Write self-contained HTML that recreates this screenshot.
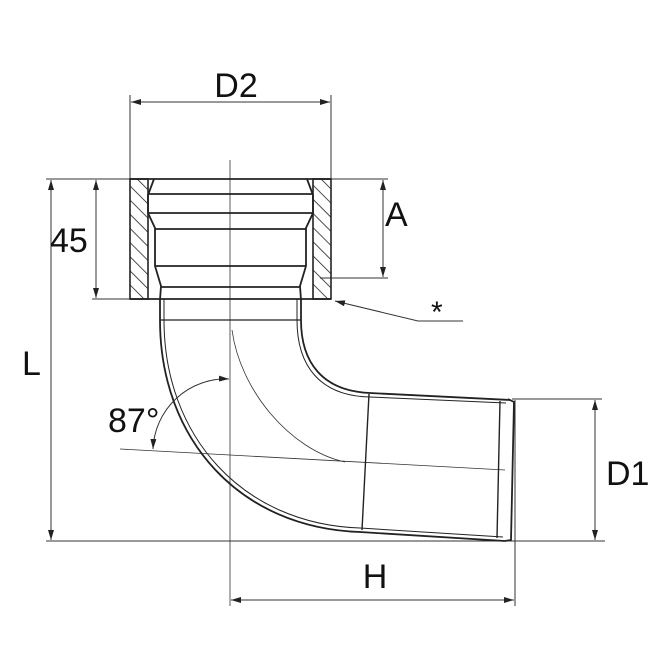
<!DOCTYPE html>
<html><head><meta charset="utf-8"><style>
html,body{margin:0;padding:0;background:#fff}
svg{display:block}
text{font-family:"Liberation Sans",sans-serif;fill:#111}
</style></head><body>
<svg width="670" height="670" viewBox="0 0 670 670" xmlns="http://www.w3.org/2000/svg">
<defs>
<marker id="ar" viewBox="0 0 10 6" refX="10" refY="3" markerWidth="10" markerHeight="6" orient="auto-start-reverse" markerUnits="userSpaceOnUse">
<path d="M0,0 L10,3 L0,6 z" fill="#222"/></marker>
<pattern id="h" patternUnits="userSpaceOnUse" width="10" height="10" patternTransform="rotate(-45)">
<line x1="0" y1="0" x2="0" y2="10" stroke="#222" stroke-width="1.6"/></pattern>
</defs>
<g stroke="#333" stroke-width="1" fill="none">
<line x1="130" y1="95" x2="130" y2="179"/>
<line x1="331" y1="95" x2="331" y2="179"/>
<line x1="46" y1="179" x2="388" y2="179"/>
<line x1="92" y1="299" x2="130" y2="299"/>
<line x1="320" y1="278" x2="388" y2="278"/>
<line x1="46" y1="541" x2="605" y2="541"/>
<line x1="512" y1="399" x2="602" y2="399"/>
<line x1="515" y1="400" x2="515" y2="606"/>
<line x1="230" y1="160" x2="230" y2="606" stroke-width="0.8"/>
<line x1="131" y1="102" x2="330" y2="102" marker-start="url(#ar)" marker-end="url(#ar)"/>
<line x1="51" y1="180" x2="51" y2="540" marker-start="url(#ar)" marker-end="url(#ar)"/>
<line x1="96" y1="180" x2="96" y2="298" marker-start="url(#ar)" marker-end="url(#ar)"/>
<line x1="383" y1="180" x2="383" y2="277" marker-start="url(#ar)" marker-end="url(#ar)"/>
<line x1="595" y1="400" x2="595" y2="540" marker-start="url(#ar)" marker-end="url(#ar)"/>
<line x1="231" y1="600" x2="514" y2="600" marker-start="url(#ar)" marker-end="url(#ar)"/>
<polyline points="335,301 418,321 463,321" marker-start="url(#ar)"/>
<path d="M229,379 A73,73 0 0 0 153,449" marker-start="url(#ar)" marker-end="url(#ar)"/>
<line x1="120" y1="449" x2="505" y2="470" stroke-width="0.8"/>
<path d="M232,330 C240,390 290,450 345,462" stroke-width="0.8"/>
</g>
<rect x="130" y="179" width="18" height="120" fill="url(#h)" stroke="#222" stroke-width="1.6"/>
<rect x="313" y="179" width="18" height="120" fill="url(#h)" stroke="#222" stroke-width="1.6"/>
<g stroke="#222" stroke-width="1.8" fill="none">
<line x1="130" y1="179" x2="331" y2="179"/>
<line x1="130" y1="299" x2="331" y2="299"/>
<path d="M154,179 L148,195 L148,213 L155,228 L155,266 L161,286 L160,300"/>
<path d="M307,179 L313,195 L313,213 L306,228 L306,266 L300,286 L301,300"/>
<line x1="148" y1="194" x2="313" y2="194"/>
<line x1="149" y1="213" x2="312" y2="213"/>
<line x1="155" y1="229" x2="306" y2="229"/>
<line x1="155" y1="266" x2="306" y2="266"/>
<line x1="161" y1="287" x2="300" y2="287"/>
<line x1="160" y1="320" x2="301" y2="320" stroke-width="1.2"/>
<path d="M160,299 L160,320 C160,440 240,528 360,532 L505,541"/>
<path d="M164,299 L164,320 C164,436 242,524 360,528 L503,537" stroke-width="1"/>
<path d="M301,299 L301,320 C301,362 322,391 370,393 L510,400"/>
<path d="M297,299 L297,320 C297,366 320,396 370,397 L506,403" stroke-width="1"/>
<line x1="369" y1="394" x2="362" y2="530" stroke-width="1.4"/>
<line x1="500" y1="401" x2="497" y2="538" stroke-width="1.4"/>
<path d="M508,399 L514,402 L511,540 L505,541"/>
</g>
<text x="236" y="97" font-size="34" text-anchor="middle">D2</text>
<text x="50" y="252" font-size="34">45</text>
<text x="22" y="375" font-size="34">L</text>
<text x="385" y="226" font-size="34">A</text>
<text x="431" y="322" font-size="30">*</text>
<text x="108" y="432" font-size="34">87°</text>
<text x="606" y="485" font-size="34">D1</text>
<text x="375" y="588" font-size="34" text-anchor="middle">H</text>
</svg>
</body></html>
